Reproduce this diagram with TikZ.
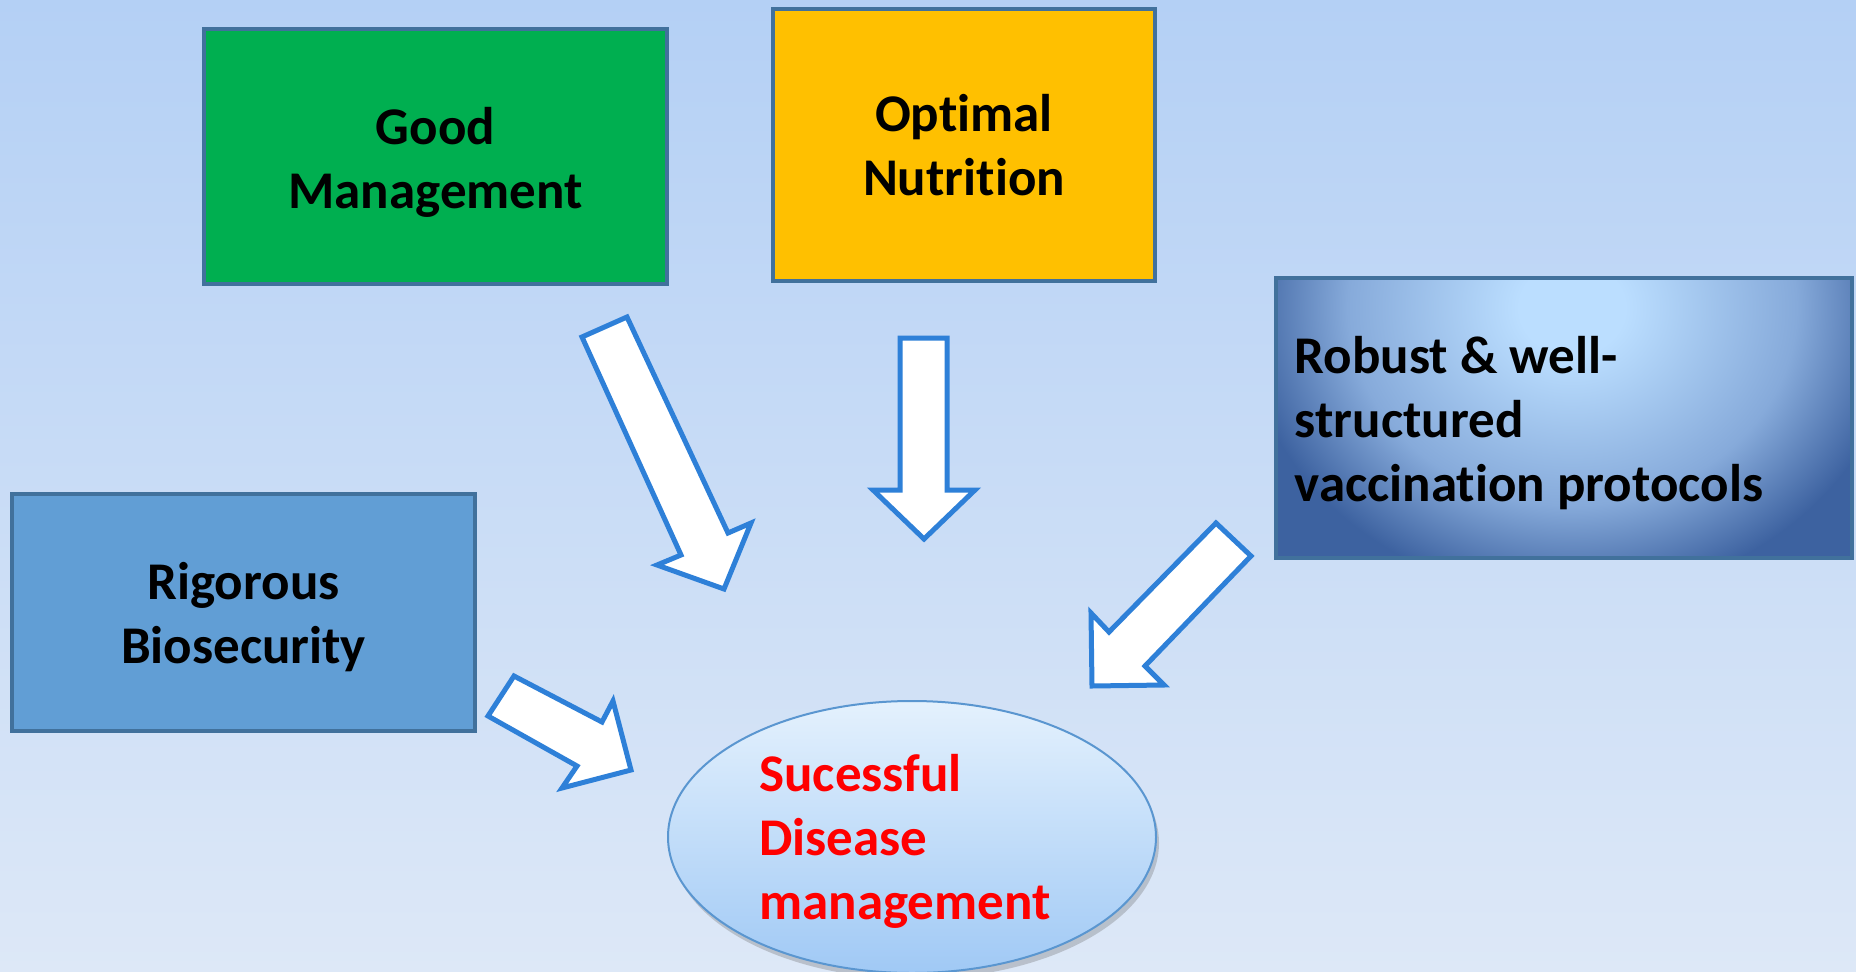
\documentclass[tikz,border=0pt]{standalone}
\usepackage{fontspec}
\setmainfont{Carlito}[Ligatures=NoCommon]
\usetikzlibrary{shapes.geometric,shadows,calc}

\definecolor{bgtop}{HTML}{B4D0F5}
\definecolor{bgbot}{HTML}{DDE8F7}
\definecolor{boxline}{HTML}{41719C}
\definecolor{mgmtgreen}{HTML}{00AF50}
\definecolor{nutrorange}{HTML}{FFC000}
\definecolor{biofill}{HTML}{619ED5}
\definecolor{vlight}{HTML}{BBDEFF}
\definecolor{vmid}{HTML}{86AADA}
\definecolor{vdark}{HTML}{3D62A0}
\definecolor{eltop}{HTML}{E4F1FD}
\definecolor{elbot}{HTML}{A0C9F5}
\definecolor{elline}{HTML}{5A96D0}
\definecolor{arrowline}{HTML}{2E80D8}
\definecolor{goalred}{HTML}{FF0000}

% glow for the vaccination panel: the path's bounding box spans 0..25bp
\pgfdeclareradialshading{vaccglow}{\pgfpoint{0bp}{0bp}}{%
  color(0bp)=(vlight); color(4bp)=(vlight); color(17bp)=(vmid);
  color(25bp)=(vdark); color(50bp)=(vdark)}

\tikzset{
  labelfont/.style={font=\fontsize{53}{64}\selectfont\bfseries},
  factorbox/.style={rectangle, draw=boxline, line width=4.5pt, inner sep=0pt},
  boxtext/.style={labelfont, align=center, inner sep=0pt},
  blockarrow/.style={draw=arrowline, fill=white, line width=5pt, line join=miter},
}

\begin{document}
\begin{tikzpicture}[x=1pt,y=-1pt]
  \useasboundingbox (0,0) rectangle (1856,972);
  % backdrop
  \shade[top color=bgtop, bottom color=bgbot] (0,0) rectangle (1856,972);

  % contributing factors
  \node[factorbox, fill=mgmtgreen, minimum width=463pt, minimum height=255pt]
    (mgmt) at (435.5,156.5) {};
  \node[boxtext] (mgmt-text) at ($(mgmt.center)+(0,6)$) {Good\\Management};

  \node[factorbox, fill=nutrorange, minimum width=382pt, minimum height=272pt]
    (nutr) at (964,145) {};
  \node[boxtext] (nutr-text) at ($(nutr.center)+(0,0)$) {Optimal\\Nutrition};

  \node[factorbox, fill=biofill, minimum width=463pt, minimum height=237pt]
    (bio) at (243.5,612.5) {};
  \node[boxtext] (bio-text) at ($(bio.center)+(0,5)$) {Rigorous\\Biosecurity};

  \node[factorbox, minimum width=576pt, minimum height=280pt,
    path picture={
      \fill[vdark] (path picture bounding box.south west)
        rectangle (path picture bounding box.north east);
      \shade[shading=vaccglow]
        ($(path picture bounding box.north)+(8,30)$)
        ellipse [x radius=330pt, y radius=290pt];
    }]
    (vacc) at (1564,418) {};
  \node[labelfont, align=left, inner sep=0pt, anchor=west] (vacc-text)
    at ($(vacc.west)+(21,5)$) {Robust \& well-\\structured\\vaccination protocols};

  % outcome
  \node[ellipse, draw=elline, line width=2pt, top color=eltop, bottom color=elbot,
    minimum width=488pt, minimum height=272pt, inner sep=0pt,
    drop shadow={shadow xshift=3pt, shadow yshift=-6pt, opacity=0.3, fill=black!60}]
    (goal) at (912,837) {};
  \node[labelfont, text=goalred, align=left, inner sep=0pt] (goal-text)
    at ($(goal.center)+(-7,4)$) {Sucessful\\Disease\\management};

  % block arrows pointing at the outcome
  \draw[blockarrow] (582,337) -- (627,317) -- (728,533) -- (751,523)
    -- (724,589) -- (657,565) -- (681,555) -- cycle;
  \draw[blockarrow] (900,338) -- (947,338) -- (947,490) -- (975,490)
    -- (924,539) -- (873,490) -- (900,490) -- cycle;
  \draw[blockarrow] (1216,523) -- (1251,556) -- (1145,666) -- (1164,685)
    -- (1092,686) -- (1091,613) -- (1109,632) -- cycle;
  \draw[blockarrow] (514,676) -- (488,716) -- (577,766) -- (562,788)
    -- (631,770) -- (613,701) -- (602,722) -- cycle;
\end{tikzpicture}
\end{document}
